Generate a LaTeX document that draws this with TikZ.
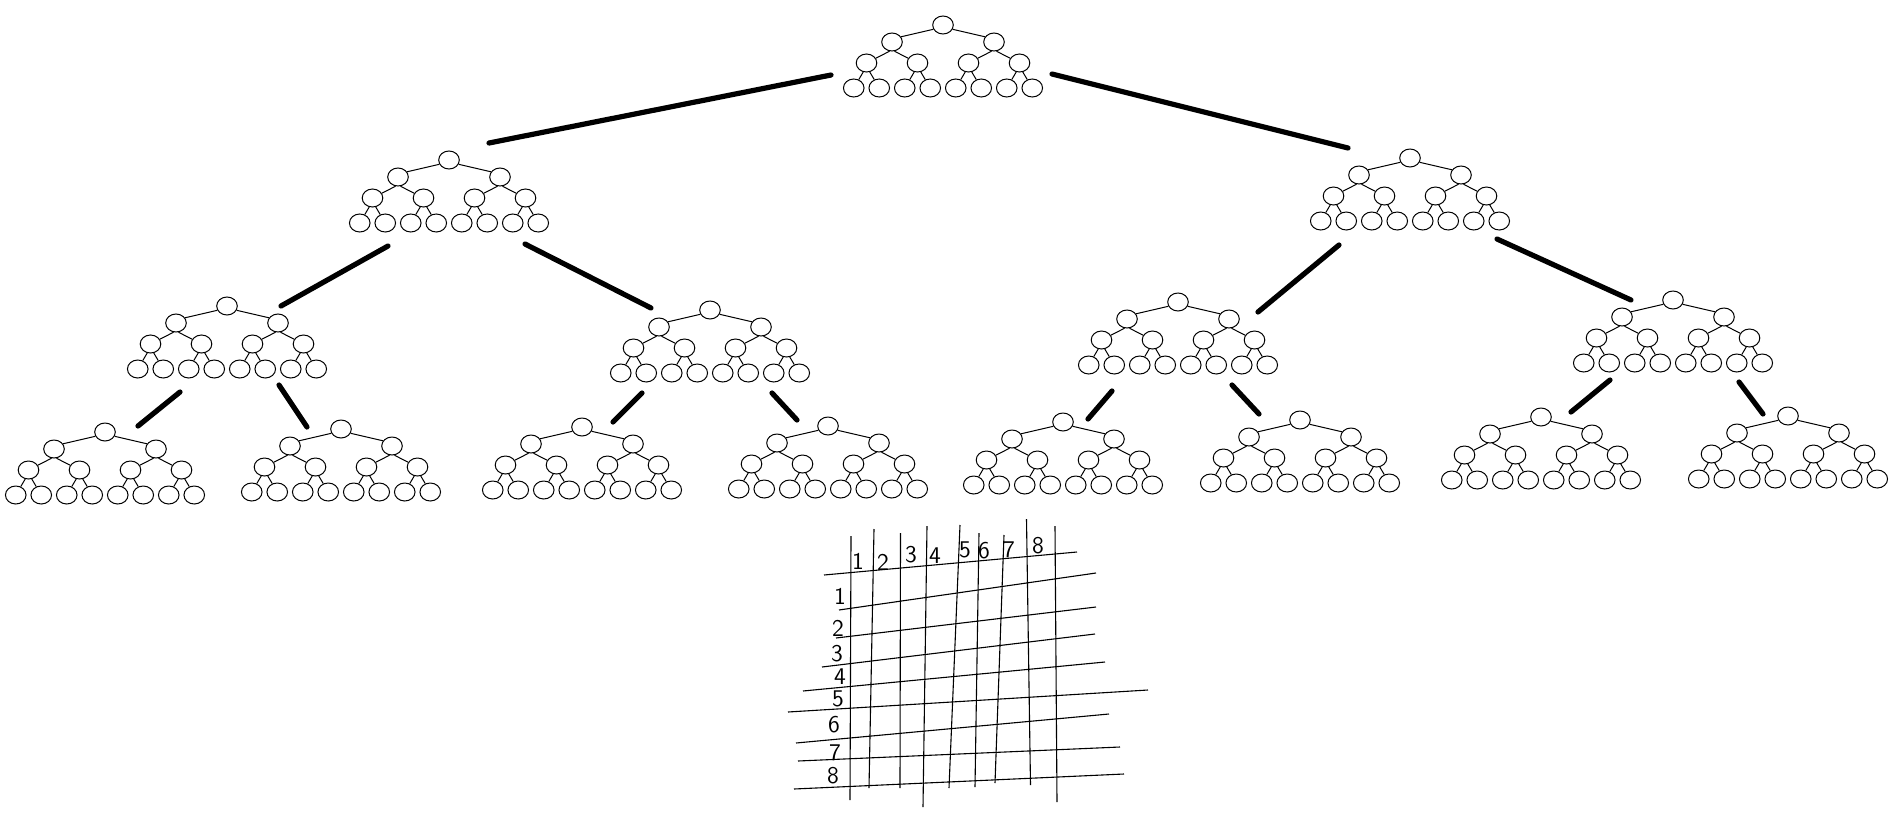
\documentclass[tikz,border=0pt]{standalone}
\usetikzlibrary{shapes.geometric,calc}

\tikzset{
  bub/.style={draw, ellipse, minimum width=10.3pt, minimum height=9pt,
              inner sep=0pt, line width=0.5pt},
  twig/.style={line width=0.5pt},
  link/.style={line width=2.6pt, line cap=round},
  gridline/.style={line width=0.55pt},
  digit/.style={inner sep=0pt, font=\sffamily\fontsize{12}{12}\selectfont},
}

% A complete binary tree of depth four; nodes are called <name>-r, <name>-1,
% <name>-2, <name>-11 ... <name>-22, <name>-111 ... <name>-222.
\newcommand\minitree[3]{%
  \begin{scope}[shift={(#2,#3)}]
    \node[bub] (#1-r) at (0,0) {};
    \node[bub] (#1-1) at (-51,17) {};
    \node[bub] (#1-2) at (51,17) {};
    \node[bub] (#1-11) at (-76.5,38) {};
    \node[bub] (#1-12) at (-25.5,38) {};
    \node[bub] (#1-21) at (25.5,38) {};
    \node[bub] (#1-22) at (76.5,38) {};
    \node[bub] (#1-111) at (-89.25,63) {};
    \node[bub] (#1-112) at (-63.75,63) {};
    \node[bub] (#1-121) at (-38.25,63) {};
    \node[bub] (#1-122) at (-12.75,63) {};
    \node[bub] (#1-211) at (12.75,63) {};
    \node[bub] (#1-212) at (38.25,63) {};
    \node[bub] (#1-221) at (63.75,63) {};
    \node[bub] (#1-222) at (89.25,63) {};
    \draw[twig] (#1-r.204) -- (#1-1.30);
    \draw[twig] (#1-r.-24) -- (#1-2.150);
    \foreach \p in {1,2}{
      \draw[twig] (#1-\p.255) -- (#1-\p1);
      \draw[twig] (#1-\p.285) -- (#1-\p2);
      \foreach \q in {1,2}{
        \draw[twig] (#1-\p\q.250) -- (#1-\p\q1);
        \draw[twig] (#1-\p\q.290) -- (#1-\p\q2);
      }
    }
  \end{scope}}

\begin{document}
\begin{tikzpicture}[x=0.5pt, y=-0.5pt]
  \useasboundingbox (0,0) rectangle (1902,820);

  % the fifteen small trees
  \minitree{T1}{943}{25}
  \minitree{T2}{449}{160}
  \minitree{T3}{1410}{158}
  \minitree{T4}{227}{306}
  \minitree{T5}{710}{310}
  \minitree{T6}{1178}{302}
  \minitree{T7}{1673}{300}
  \minitree{T8}{105}{432}
  \minitree{T9}{341}{429}
  \minitree{T10}{582}{427}
  \minitree{T11}{828}{426}
  \minitree{T12}{1063}{422}
  \minitree{T13}{1300}{420}
  \minitree{T14}{1541}{417}
  \minitree{T15}{1788}{416}

  % thick links between the trees
  \draw[link] ($(T1-r)+(-112,50)$) -- ($(T2-r)+(40,-17)$);
  \draw[link] ($(T1-r)+(109,49)$)  -- ($(T3-r)+(-62,-10)$);
  \draw[link] ($(T2-r)+(-61,86)$)  -- ($(T4-r)+(54,0)$);
  \draw[link] ($(T2-r)+(76,84)$)   -- ($(T5-r)+(-59,-2)$);
  \draw[link] ($(T3-r)+(-71,87)$)  -- ($(T6-r)+(80,10)$);
  \draw[link] ($(T3-r)+(87,81)$)   -- ($(T7-r)+(-42,0)$);
  \draw[link] ($(T4-r)+(-47,86)$)  -- ($(T8-r)+(33,-6)$);
  \draw[link] ($(T4-r)+(52,79)$)   -- ($(T9-r)+(-34,-2)$);
  \draw[link] ($(T5-r)+(-68,83)$)  -- ($(T10-r)+(31,-5)$);
  \draw[link] ($(T5-r)+(62,83)$)   -- ($(T11-r)+(-31,-6)$);
  \draw[link] ($(T6-r)+(-66,89)$)  -- ($(T12-r)+(25,-3)$);
  \draw[link] ($(T6-r)+(54,83)$)   -- ($(T13-r)+(-41,-6)$);
  \draw[link] ($(T7-r)+(-63,80)$)  -- ($(T14-r)+(30,-5)$);
  \draw[link] ($(T7-r)+(66,82)$)   -- ($(T15-r)+(-25,-2)$);

  % hand-drawn table: horizontal rules
  \draw[gridline] (824,575) -- (1077,552);
  \draw[gridline] (839,610) -- (1096,573);
  \draw[gridline] (836,638) -- (1096,607);
  \draw[gridline] (822,667) -- (1095,634);
  \draw[gridline] (803,691) -- (1105,662);
  \draw[gridline] (788,712) -- (1148,690);
  \draw[gridline] (796,743) -- (1109,714);
  \draw[gridline] (798,761) -- (1120,747);
  \draw[gridline] (794,789) -- (1124,774);
  % vertical rules
  \draw[gridline] (851,536) -- (850,800);
  \draw[gridline] (874,529) -- (869,788);
  \draw[gridline] (900.5,533) -- (900,788);
  \draw[gridline] (927,526) -- (923,807);
  \draw[gridline] (960,525) -- (949,788);
  \draw[gridline] (979,533) -- (975,787);
  \draw[gridline] (1004,535) -- (995,783);
  \draw[gridline] (1026.5,519) -- (1030.5,785);
  \draw[gridline] (1055,526) -- (1057,802);

  % column numbers
  \node[digit] (c1) at (858,561) {1};
  \node[digit] (c2) at (883,562) {2};
  \node[digit] (c3) at (911,555) {3};
  \node[digit] (c4) at (935,556) {4};
  \node[digit] (c5) at (965,550) {5};
  \node[digit] (c6) at (984,551) {6};
  \node[digit] (c7) at (1009,550) {7};
  \node[digit] (c8) at (1038,546) {8};
  % row numbers
  \node[digit] (r1) at (840,596) {1};
  \node[digit] (r2) at (838,628) {2};
  \node[digit] (r3) at (837,654) {3};
  \node[digit] (r4) at (840,677) {4};
  \node[digit] (r5) at (838,699) {5};
  \node[digit] (r6) at (834,725) {6};
  \node[digit] (r7) at (835,753) {7};
  \node[digit] (r8) at (833,776) {8};
\end{tikzpicture}
\end{document}
